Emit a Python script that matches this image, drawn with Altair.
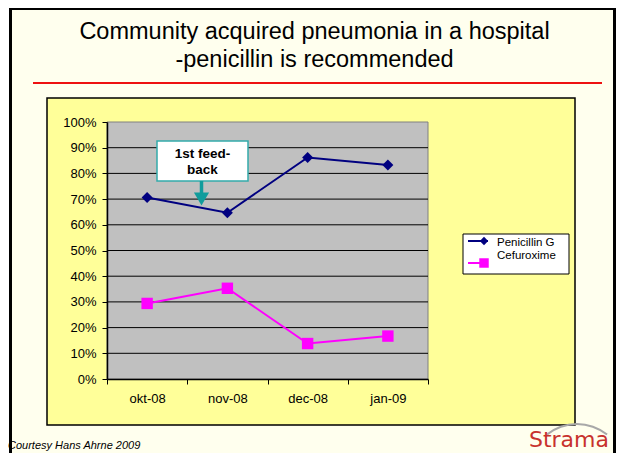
import altair as alt
import pandas as pd

# ---- data ----
months = ["okt-08", "nov-08", "dec-08", "jan-09"]
series_names = ["Penicillin G", "Cefuroxime"]
penicillin = [0.706, 0.647, 0.862, 0.833]
cefuroxime = [0.294, 0.353, 0.138, 0.167]
y_ticks = [0, 0.1, 0.2, 0.3, 0.4, 0.5, 0.6, 0.7, 0.8, 0.9, 1.0]
grid_vals = [0.1, 0.2, 0.3, 0.4, 0.5, 0.6, 0.7, 0.8, 0.9]
title_lines = ["Community acquired pneumonia in a hospital", "-penicillin is recommended"]
annotation_lines = ["1st feed-", "back"]
footer = "Courtesy Hans Ahrne 2009"
logo = "Strama"

colors = ["#000080", "#FF00FF"]
shapes = ["diamond", "square"]

rows = []
for m, p, c in zip(months, penicillin, cefuroxime):
    rows.append({"month": m, "series": series_names[0], "value": p})
    rows.append({"month": m, "series": series_names[1], "value": c})
df = pd.DataFrame(rows)
grid_df = pd.DataFrame({"value": grid_vals})
one = pd.DataFrame({"a": [0]})

W, H = 321, 257
FONT = "Liberation Sans"

slide = alt.Chart(one).mark_rect(fill="#FFFFEE", stroke="#000000", strokeWidth=3).encode(
    x=alt.value(-96.5), x2=alt.value(507.5), y=alt.value(-113.5), y2=alt.value(360))
red_line = alt.Chart(one).mark_rule(color="#EE1111", strokeWidth=2).encode(
    x=alt.value(-74), x2=alt.value(495), y=alt.value(-39))
title1 = alt.Chart(one).mark_text(text=title_lines[0], font=FONT, fontSize=23.5, color="black",
                                  align="center", baseline="middle").encode(
    x=alt.value(207.5), y=alt.value(-90))
title2 = alt.Chart(one).mark_text(text=title_lines[1], font=FONT, fontSize=23.5, color="black",
                                  align="center", baseline="middle").encode(
    x=alt.value(207.5), y=alt.value(-62))
chart_box = alt.Chart(one).mark_rect(fill="#FFFF99", stroke="#000000", strokeWidth=1.5).encode(
    x=alt.value(-60), x2=alt.value(468), y=alt.value(-24), y2=alt.value(303))
plot_bg = alt.Chart(one).mark_rect(fill="#C0C0C0", stroke="#808080", strokeWidth=1).encode(
    x=alt.value(0), x2=alt.value(W), y=alt.value(0), y2=alt.value(H))

yscale = alt.Scale(domain=[0, 1], nice=False)
xscale = alt.Scale(type="band", domain=months, paddingInner=0, paddingOuter=0)
yaxis = alt.Axis(title=None, values=y_ticks, format=".0%", labelPadding=6, zindex=1)
xaxis = alt.Axis(title=None, tickBand="extent", labelAngle=0, labelPadding=8, zindex=1)

grid = alt.Chart(grid_df).mark_rule(color="#000000", strokeWidth=1).encode(
    y=alt.Y("value:Q", scale=yscale, axis=yaxis), x=alt.value(0), x2=alt.value(W))

xenc = alt.X("month:N", scale=xscale, sort=months, axis=xaxis)
yenc = alt.Y("value:Q", scale=yscale, axis=yaxis)
color_enc = alt.Color("series:N", scale=alt.Scale(domain=series_names, range=colors), legend=None)

lines = alt.Chart(df).mark_line(strokeWidth=2).encode(x=xenc, y=yenc, color=color_enc)
points = alt.Chart(df).mark_point(filled=True, opacity=1).encode(
    x=xenc, y=yenc, color=color_enc,
    shape=alt.Shape("series:N", scale=alt.Scale(domain=series_names, range=shapes), legend=None),
    size=alt.Size("series:N", scale=alt.Scale(domain=series_names, range=[120, 130]), legend=None))

# legend (drawn like the Excel legend)
leg_box = alt.Chart(one).mark_rect(fill="white", stroke="#000000", strokeWidth=1).encode(
    x=alt.value(356), x2=alt.value(462), y=alt.value(112), y2=alt.value(152))
leg_layers = [leg_box]
leg_y_line = [119, 141]
leg_y_text = [121, 134]
for i, name in enumerate(series_names):
    leg_layers.append(alt.Chart(one).mark_rule(color=colors[i], strokeWidth=2).encode(
        x=alt.value(361), x2=alt.value(381), y=alt.value(leg_y_line[i])))
    leg_layers.append(alt.Chart(one).mark_point(shape=shapes[i], filled=True, opacity=1,
                                               color=colors[i], size=[70, 90][i]).encode(
        x=alt.value(377), y=alt.value(leg_y_line[i])))
    leg_layers.append(alt.Chart(one).mark_text(text=name, font=FONT, fontSize=11.5, color="black",
                                              align="left", baseline="middle").encode(
        x=alt.value(390), y=alt.value(leg_y_text[i])))

# annotation
ann_box = alt.Chart(one).mark_rect(fill="white", stroke="#33AAAA", strokeWidth=1.5).encode(
    x=alt.value(50), x2=alt.value(141), y=alt.value(19), y2=alt.value(59))
ann_t1 = alt.Chart(one).mark_text(text=annotation_lines[0], font=FONT, fontSize=13.5, fontWeight="bold",
                                  color="black", align="center", baseline="middle").encode(
    x=alt.value(95.5), y=alt.value(32))
ann_t2 = alt.Chart(one).mark_text(text=annotation_lines[1], font=FONT, fontSize=13.5, fontWeight="bold",
                                  color="black", align="center", baseline="middle").encode(
    x=alt.value(95.5), y=alt.value(47.5))
arrow_shaft = alt.Chart(one).mark_rule(color="#119C9C", strokeWidth=3.5).encode(
    x=alt.value(94.5), y=alt.value(59), y2=alt.value(73))
arrow_head = alt.Chart(one).mark_point(shape="triangle-down", filled=True, opacity=1,
                                       color="#119C9C", size=230).encode(
    x=alt.value(94.5), y=alt.value(77))

footer_t = alt.Chart(one).mark_text(text=footer, font=FONT, fontSize=11, fontStyle="italic",
                                    color="black", align="left", baseline="alphabetic").encode(
    x=alt.value(-99), y=alt.value(327))
logo_arc = alt.Chart(one).mark_arc(theta=5.6, theta2=6.96, radius=49, radius2=47, color="#A8A8A8").encode(
    x=alt.value(470), y=alt.value(350))
logo_t = alt.Chart(one).mark_text(text=logo, font="DejaVu Sans", fontSize=22, color="#C8322D",
                                  align="right", baseline="alphabetic").encode(
    x=alt.value(502), y=alt.value(325))

chart = alt.layer(
    slide, red_line, title1, title2, chart_box, plot_bg, grid, lines, points,
    *leg_layers, ann_box, ann_t1, ann_t2, arrow_shaft, arrow_head,
    footer_t, logo_arc, logo_t
).properties(
    width=W, height=H,
    autosize=alt.AutoSizeParams(type="none"),
    padding={"left": 99, "top": 114, "right": 188, "bottom": 74},
    background="white",
).configure_view(stroke=None).configure_axis(
    labelFont=FONT, labelFontSize=13, labelColor="black", tickColor="black",
    domainColor="black", tickSize=5, grid=False, domainWidth=1.5
)

chart.save("out.html", embed_options={"renderer": "svg", "actions": False})
